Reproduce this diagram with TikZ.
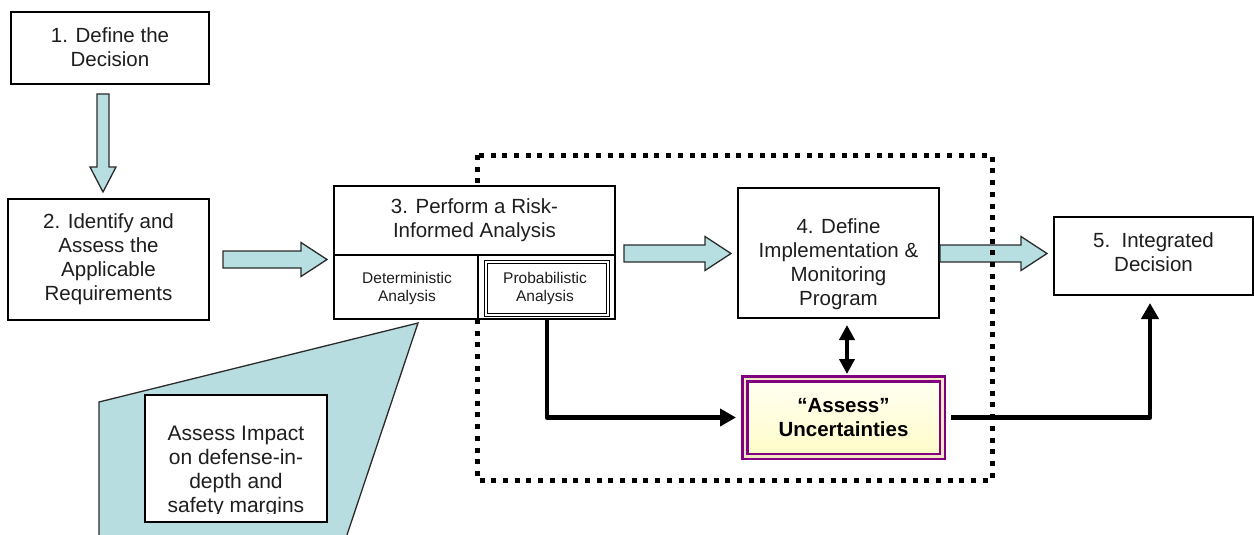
\documentclass[tikz,border=0pt]{standalone}
\usepackage{fontspec}
\setmainfont{Liberation Sans}
\usetikzlibrary{arrows.meta,calc}
\pgfdeclarelayer{front}
\pgfsetlayers{main,front}
\definecolor{arrowfill}{HTML}{B7DEE1}
\definecolor{calloutfill}{HTML}{B7DDE0}
\definecolor{edgegray}{HTML}{2B2B2B}
\definecolor{txt}{HTML}{1E1E1E}
\definecolor{uncpurple}{HTML}{800080}
\definecolor{uncgap}{HTML}{F3E6C4}
\definecolor{unctop}{HTML}{FFFFF2}
\definecolor{uncbottom}{HTML}{FFFCC8}
\tikzset{
  stepbox/.style={draw=black, line width=2pt, fill=white, inner sep=0pt},
  steptext/.style={inner sep=0pt, align=center, text=txt, font=\fontsize{20.5}{24}\selectfont},
  smalltext/.style={inner sep=0pt, align=center, text=txt, font=\fontsize{15.5}{18}\selectfont},
  blockarrow/.style={draw=edgegray, line width=1.3pt, fill=arrowfill, line join=miter},
  flow/.style={draw=black, line width=4.5pt, line join=round, -{Triangle[width=17pt,length=16pt]}},
  twoway/.style={draw=black, line width=4pt, {Triangle[width=15pt,length=15pt]}-{Triangle[width=15pt,length=15pt]}},
  dotframe/.style={draw=black, line width=5pt, dash pattern=on 5pt off 6.7pt},
  uncbox/.style={draw=uncpurple, double=uncgap, double distance=2.5pt, line width=2.5pt,
    top color=unctop, bottom color=uncbottom, inner sep=0pt, align=center, text=black,
    font=\bfseries\fontsize{20.5}{24}\selectfont},
  callout/.style={draw=edgegray, line width=1.3pt, fill=calloutfill},
}
\newcommand{\rblock}[2]{\draw[blockarrow] let \p1=(#1), \p2=(#2) in
  (\x1,{\y1+8.5pt}) -- ({\x2-26pt},{\y1+8.5pt}) -- ({\x2-26pt},{\y1+17pt}) -- (\x2,\y1)
  -- ({\x2-26pt},{\y1-17pt}) -- ({\x2-26pt},{\y1-8.5pt}) -- (\x1,{\y1-8.5pt}) -- cycle;}
\newcommand{\dblock}[2]{\draw[blockarrow] let \p1=(#1), \p2=(#2) in
  ({\x1-6pt},\y1) -- ({\x1-6pt},{\y2+25pt}) -- ({\x1-13pt},{\y2+25pt}) -- (\x1,\y2)
  -- ({\x1+13pt},{\y2+25pt}) -- ({\x1+6pt},{\y2+25pt}) -- ({\x1+6pt},\y1) -- cycle;}
\begin{document}
\begin{tikzpicture}[x=1pt,y=-1pt]
\useasboundingbox (0,0) rectangle (1254,535);

% callout shape
\path[callout] (99,402) -- (418,323) -- (343.6,545) -- (99,545) -- cycle;
\node[stepbox, minimum width=182pt, minimum height=127pt] (impact) at (236,458.5) {};
\begin{scope}
  \clip (145,395) rectangle (327,513);
  \node[steptext, font=\fontsize{21}{24}\selectfont] (impacttext) at (236,471.5)
    {Assess Impact\\on defense-in-\\depth and\\safety margins};
\end{scope}

% step 3 on the front layer
\begin{pgfonlayer}{front}
  \node[stepbox, minimum width=281pt, minimum height=133pt] (box3) at (474.5,252.5) {};
  \node[steptext] (box3text) at (474.5,220) {3. Perform a Risk-\\Informed Analysis};
  \draw[black, line width=2pt] ([yshift=-70pt]box3.north west) -- ([yshift=-70pt]box3.north east);
  \draw[black, line width=2pt] ($(box3.south west)+(145,0)$) -- ($(box3.north west)+(145,70)$);
  \node[smalltext] (det) at (407,288) {Deterministic\\Analysis};
  \node[draw=black, line width=1.2pt, double=white, double distance=1.5pt, inner sep=0pt,
        minimum width=122pt, minimum height=53pt] (prob) at (547,288.5) {};
  \node[smalltext] (probtext) at (545,288) {Probabilistic\\Analysis};
\end{pgfonlayer}

% other steps
\node[stepbox, minimum width=198pt, minimum height=72pt] (box1) at (110,48) {};
\node[steptext] (box1text) at (110,47) {1. Define the\\Decision};
\node[stepbox, minimum width=201pt, minimum height=121pt] (box2) at (108.5,259.5) {};
\node[steptext] (box2text) at (108.5,259) {2. Identify and\\Assess the\\Applicable\\Requirements};
\node[stepbox, minimum width=201pt, minimum height=130pt] (box4) at (838.5,253) {};
\node[steptext] (box4text) at (838.5,264) {4. Define\\Implementation \&\\Monitoring\\Program};
\node[stepbox, minimum width=199pt, minimum height=78pt] (box5) at (1153.5,256) {};
\node[steptext] (box5text) at (1153.5,252) {5.\ \ Integrated\\Decision};
\node[uncbox, minimum width=197.5pt, minimum height=77.5pt] (unc) at (843.5,417.5)
  {\textquotedblleft Assess\textquotedblright\\Uncertainties};

% block arrows
\dblock{[xshift=-7pt,yshift=-9pt]box1.south}{[xshift=-7pt,yshift=6pt]box2.north}
\rblock{[xshift=13pt]box2.east}{[xshift=-6pt]box3.west}
\rblock{[xshift=8pt,yshift=-1pt]box3.east}{[xshift=-6pt]box4.west}
\rblock{[yshift=-0.5pt]box4.east}{[xshift=-6pt]box5.west}

% connectors
\draw[flow] (prob.south) |- ([xshift=-7.5pt]unc.west);
\draw[twoway] ($(box4.south)+(8.5,6)$) -- ($(box4.south |- unc.north)+(8.5,-3.5)$);
\draw[flow] ([xshift=7.75pt]unc.east) -| ([xshift=-3.5pt,yshift=-7pt]box5.south);

% dotted frame
\draw[dotframe] (477,155) rectangle (992,480);
\end{tikzpicture}
\end{document}
